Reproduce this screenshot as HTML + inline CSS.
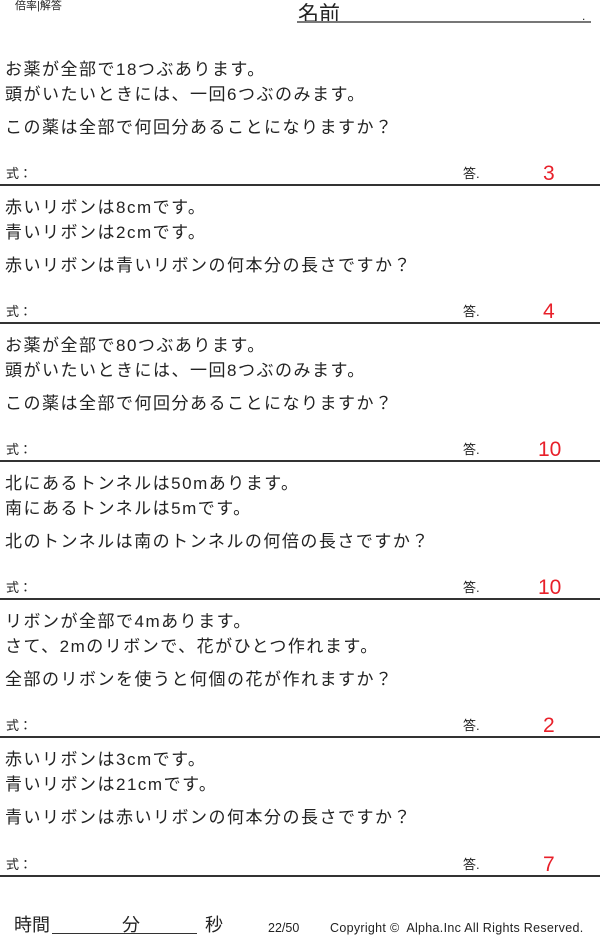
<!DOCTYPE html>
<html><head><meta charset="utf-8"><style>
body{margin:0;background:#fff;}
#p{position:relative;width:600px;height:935px;overflow:hidden;font-family:"Liberation Sans","Noto Sans CJK JP",sans-serif;color:#222;}
.t{position:absolute;white-space:nowrap;line-height:1;}
.q{font-size:17px;letter-spacing:1.5px;left:5px;}
.s{font-size:13px;left:6px;}
.a{font-size:13px;left:463px;}
.n{font-size:21px;color:#e8202a;left:543px;}
.hr{position:absolute;left:0;width:600px;height:2px;background:#333;}
</style></head><body><div id="p">
<div class="t" style="left:15px;top:1px;font-size:11px;">倍率|解答</div>
<div class="t" style="left:298px;top:4px;font-size:21px;">名前</div>
<div style="position:absolute;left:297px;top:21px;width:294px;height:2px;background:#777;"></div>
<div class="t" style="left:582px;top:10px;font-size:12px;">.</div>

<div class="t q" style="top:61px">お薬が全部で18つぶあります。</div>
<div class="t q" style="top:86px">頭がいたいときには、一回6つぶのみます。</div>
<div class="t q" style="top:119px">この薬は全部で何回分あることになりますか？</div>
<div class="t s" style="top:167px">式：</div><div class="t a" style="top:167px">答.</div><div class="t n" style="top:163px">3</div>
<div class="hr" style="top:184px"></div>

<div class="t q" style="top:199px">赤いリボンは8cmです。</div>
<div class="t q" style="top:224px">青いリボンは2cmです。</div>
<div class="t q" style="top:257px">赤いリボンは青いリボンの何本分の長さですか？</div>
<div class="t s" style="top:305px">式：</div><div class="t a" style="top:305px">答.</div><div class="t n" style="top:301px">4</div>
<div class="hr" style="top:322px"></div>

<div class="t q" style="top:337px">お薬が全部で80つぶあります。</div>
<div class="t q" style="top:362px">頭がいたいときには、一回8つぶのみます。</div>
<div class="t q" style="top:395px">この薬は全部で何回分あることになりますか？</div>
<div class="t s" style="top:443px">式：</div><div class="t a" style="top:443px">答.</div><div class="t n" style="top:439px;left:538px">10</div>
<div class="hr" style="top:460px"></div>

<div class="t q" style="top:475px">北にあるトンネルは50mあります。</div>
<div class="t q" style="top:500px">南にあるトンネルは5mです。</div>
<div class="t q" style="top:533px">北のトンネルは南のトンネルの何倍の長さですか？</div>
<div class="t s" style="top:581px">式：</div><div class="t a" style="top:581px">答.</div><div class="t n" style="top:577px;left:538px">10</div>
<div class="hr" style="top:598px"></div>

<div class="t q" style="top:613px">リボンが全部で4mあります。</div>
<div class="t q" style="top:638px">さて、2mのリボンで、花がひとつ作れます。</div>
<div class="t q" style="top:671px">全部のリボンを使うと何個の花が作れますか？</div>
<div class="t s" style="top:719px">式：</div><div class="t a" style="top:719px">答.</div><div class="t n" style="top:715px">2</div>
<div class="hr" style="top:736px"></div>

<div class="t q" style="top:751px">赤いリボンは3cmです。</div>
<div class="t q" style="top:776px">青いリボンは21cmです。</div>
<div class="t q" style="top:809px">青いリボンは赤いリボンの何本分の長さですか？</div>
<div class="t s" style="top:858px">式：</div><div class="t a" style="top:858px">答.</div><div class="t n" style="top:854px">7</div>
<div class="hr" style="top:875px"></div>

<div class="t" style="left:14px;top:916px;font-size:18px;">時間</div>
<div style="position:absolute;left:52px;top:933px;width:145px;height:1px;background:#333;"></div>
<div class="t" style="left:122px;top:916px;font-size:18px;">分</div>
<div class="t" style="left:205px;top:916px;font-size:18px;">秒</div>
<div class="t" style="left:268px;top:922px;font-size:12.5px;">22/50</div>
<div class="t" style="left:330px;top:922px;font-size:12.5px;letter-spacing:0.3px;">Copyright ©&nbsp; Alpha.Inc All Rights Reserved.</div>
</div></body></html>
